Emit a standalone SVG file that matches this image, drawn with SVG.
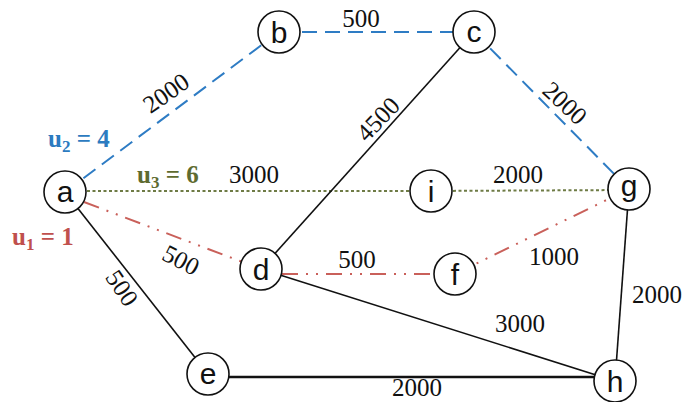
<svg xmlns="http://www.w3.org/2000/svg" width="686" height="402" viewBox="0 0 686 402">
<style>
.n circle{fill:#fff;stroke:#111;stroke-width:1.6}
.n text{font-family:"Liberation Sans",Arial,sans-serif;font-size:30px;fill:#111;text-anchor:middle}
.k{stroke:#111;stroke-width:1.6;fill:none}
.b{stroke:#2E7CC4;stroke-width:2;stroke-dasharray:15 8;fill:none}
.r{stroke:#C9605A;stroke-width:2;stroke-dasharray:16 8 2 8 2 8;fill:none}
.o{stroke:#6E7B45;stroke-width:2;stroke-dasharray:3 2.5;fill:none}
.w{font-size:25px;fill:#111;text-anchor:middle}
.u{font-size:25px;font-weight:bold}
</style>
<g id="connectors">
<line class="b" x1="65" y1="192" x2="279" y2="32"/>
<line class="b" x1="279" y1="32" x2="474" y2="32"/>
<line class="b" x1="474" y1="32" x2="629" y2="189"/>
<line class="o" x1="65" y1="191" x2="431" y2="191"/>
<line class="o" x1="431" y1="191" x2="629" y2="190"/>
<line class="r" x1="84" y1="202" x2="261" y2="269"/>
<line class="r" x1="282" y1="274" x2="455" y2="274"/>
<line class="r" x1="455" y1="274" x2="629" y2="189"/>
<line class="k" x1="474" y1="32" x2="261" y2="269"/>
<line class="k" x1="65" y1="192" x2="208" y2="374"/>
<line class="k" x1="261" y1="269" x2="615" y2="381"/>
<line class="k" x1="629" y1="189" x2="615" y2="381"/>
<line class="k" style="stroke-width:2.6" x1="208" y1="377" x2="615" y2="377"/>
</g>
<g id="labels" font-family="'Liberation Serif','Times New Roman',serif">
<text class="w" x="361" y="27">500</text>
<text class="w" x="254" y="183">3000</text>
<text class="w" x="518" y="183">2000</text>
<text class="w" x="357" y="268">500</text>
<text class="w" x="554" y="265">1000</text>
<text class="w" x="520" y="332">3000</text>
<text class="w" x="657" y="303">2000</text>
<text class="w" x="417" y="396">2000</text>
<text class="w" dy=".34em" transform="translate(166 93) rotate(-35)">2000</text>
<text class="w" dy=".34em" transform="translate(378 119) rotate(-46)">4500</text>
<text class="w" dy=".34em" transform="translate(565 103) rotate(43)">2000</text>
<text class="w" dy=".34em" transform="translate(181 260) rotate(27)">500</text>
<text class="w" dy=".34em" transform="translate(122 288) rotate(56)">500</text>
<text class="u" x="48" y="147" fill="#2C7BC0">u<tspan font-size="17" dy="5">2</tspan><tspan dy="-5"> = 4</tspan></text>
<text class="u" x="137" y="183" fill="#5E6B30">u<tspan font-size="17" dy="5">3</tspan><tspan dy="-5"> = 6</tspan></text>
<text class="u" x="12" y="245" fill="#C0504D">u<tspan font-size="17" dy="5">1</tspan><tspan dy="-5"> = 1</tspan></text>
</g>
<g id="node-a" class="n"><circle cx="65" cy="192" r="21"/><text x="65" y="202">a</text></g>
<g id="node-b" class="n"><circle cx="279" cy="32" r="21"/><text x="279" y="43">b</text></g>
<g id="node-c" class="n"><circle cx="474" cy="32" r="21"/><text x="474" y="42">c</text></g>
<g id="node-d" class="n"><circle cx="261" cy="269" r="21"/><text x="261" y="280">d</text></g>
<g id="node-e" class="n"><circle cx="208" cy="374" r="21"/><text x="208" y="384">e</text></g>
<g id="node-f" class="n"><circle cx="455" cy="274" r="21"/><text x="455" y="285">f</text></g>
<g id="node-g" class="n"><circle cx="629" cy="189" r="21"/><text x="629" y="196">g</text></g>
<g id="node-h" class="n"><circle cx="615" cy="381" r="21"/><text x="615" y="392">h</text></g>
<g id="node-i" class="n"><circle cx="431" cy="191" r="21"/><text x="431" y="202">i</text></g>
</svg>
